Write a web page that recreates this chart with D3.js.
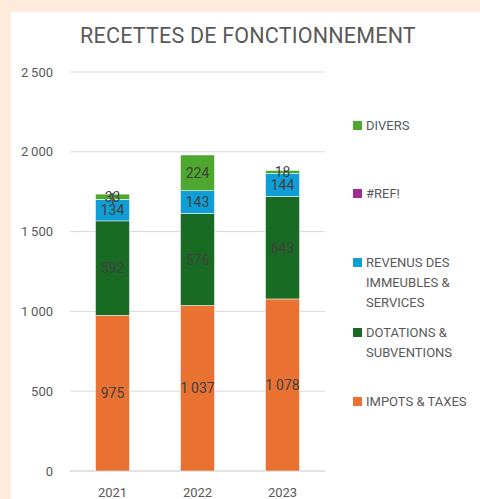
<!DOCTYPE html>
<html>
<head>
<meta charset="utf-8">
<script src="https://cdn.jsdelivr.net/npm/d3@7"></script>
<style>
  body { margin: 0; background: #fdebdc; }
  text { font-family: Roboto, "Noto Sans", sans-serif; }
</style>
</head>
<body>
<script>
  const years = ["2021", "2022", "2023"];
  const impots = [975, 1037, 1078];
  const dotations = [592, 576, 643];
  const revenus = [134, 143, 144];
  const refErr = [1, 0, 0];
  const divers = [33, 224, 18];
  const yTicks = [0, 500, 1000, 1500, 2000, 2500];

  const seriesNames = ["IMPOTS & TAXES", "DOTATIONS & SUBVENTIONS", "REVENUS DES IMMEUBLES & SERVICES", "#REF!", "DIVERS"];
  const seriesVals = [impots, dotations, revenus, refErr, divers];
  const colors = ["#e97132", "#196b24", "#0f9ed5", "#a02b93", "#4ea72e"];

  const W = 480, H = 499;
  const svg = d3.select("body").append("svg").attr("width", W).attr("height", H);

  // white panel
  svg.append("rect").attr("x", 11).attr("y", 12).attr("width", W - 11).attr("height", H - 12).attr("fill", "#fff");

  svg.append("text")
    .attr("x", 248).attr("y", 43)
    .attr("text-anchor", "middle")
    .attr("font-size", 21.5)
    .attr("letter-spacing", 0.2)
    .attr("fill", "#595959")
    .text("RECETTES DE FONCTIONNEMENT");

  const x = d3.scaleBand().domain(years).range([70, 325]).paddingInner(0.6).paddingOuter(0.3);
  const y = d3.scaleLinear().domain([0, 2500]).range([471, 72]);

  const fmt = v => d3.format(",")(v).replace(/,/g, "\u2009");

  // gridlines
  svg.append("g").selectAll("line").data(yTicks).join("line")
    .attr("x1", 70).attr("x2", 325)
    .attr("y1", d => y(d)).attr("y2", d => y(d))
    .attr("stroke", "#d9d9d9").attr("stroke-width", d => d === 0 ? 1.5 : 1);

  svg.append("g").selectAll("text").data(yTicks).join("text")
    .attr("x", 53).attr("y", d => y(d) + 4.5)
    .attr("text-anchor", "end")
    .attr("font-size", 13).attr("fill", "#595959")
    .text(fmt);

  svg.append("g").selectAll("text").data(years).join("text")
    .attr("x", d => x(d) + x.bandwidth() / 2).attr("y", 497)
    .attr("text-anchor", "middle")
    .attr("font-size", 13).attr("fill", "#595959")
    .text(d => d);

  // stacked bars
  const rows = years.map((yr, i) => {
    const r = { year: yr };
    seriesNames.forEach((s, k) => r[s] = seriesVals[k][i]);
    return r;
  });
  const stacked = d3.stack().keys(seriesNames)(rows);

  const g = svg.append("g");
  stacked.forEach((layer, k) => {
    g.append("g").attr("fill", colors[k]).selectAll("rect").data(layer).join("rect")
      .attr("x", d => x(d.data.year))
      .attr("width", x.bandwidth())
      .attr("y", d => y(d[1]))
      .attr("height", d => y(d[0]) - y(d[1]))
      .attr("stroke", d => (d[1] - d[0]) > 0 ? "#fff" : "none")
      .attr("stroke-width", 0.5);
  });
  stacked.forEach((layer, k) => {
    g.append("g").selectAll("text").data(layer.filter(d => d[1] - d[0] > 0)).join("text")
      .attr("x", d => x(d.data.year) + x.bandwidth() / 2)
      .attr("y", d => y((d[0] + d[1]) / 2) + 5)
      .attr("text-anchor", "middle")
      .attr("font-size", 14).attr("fill", "#404040")
      .text(d => fmt(d[1] - d[0]));
  });

  // legend
  const legend = [
    { k: 4, lines: ["DIVERS"], y: 125 },
    { k: 3, lines: ["#REF!"], y: 193 },
    { k: 2, lines: ["REVENUS DES", "IMMEUBLES &", "SERVICES"], y: 262 },
    { k: 1, lines: ["DOTATIONS &", "SUBVENTIONS"], y: 332 },
    { k: 0, lines: ["IMPOTS & TAXES"], y: 401 }
  ];
  const lg = svg.append("g");
  legend.forEach(L => {
    lg.append("rect").attr("x", 353).attr("y", L.y - 4).attr("width", 9).attr("height", 9).attr("fill", colors[L.k]);
    L.lines.forEach((t, j) => {
      lg.append("text").attr("x", 366).attr("y", L.y + 5 + j * 20)
        .attr("font-size", 13).attr("fill", "#595959")
        .text(t);
    });
  });
</script>
</body>
</html>
